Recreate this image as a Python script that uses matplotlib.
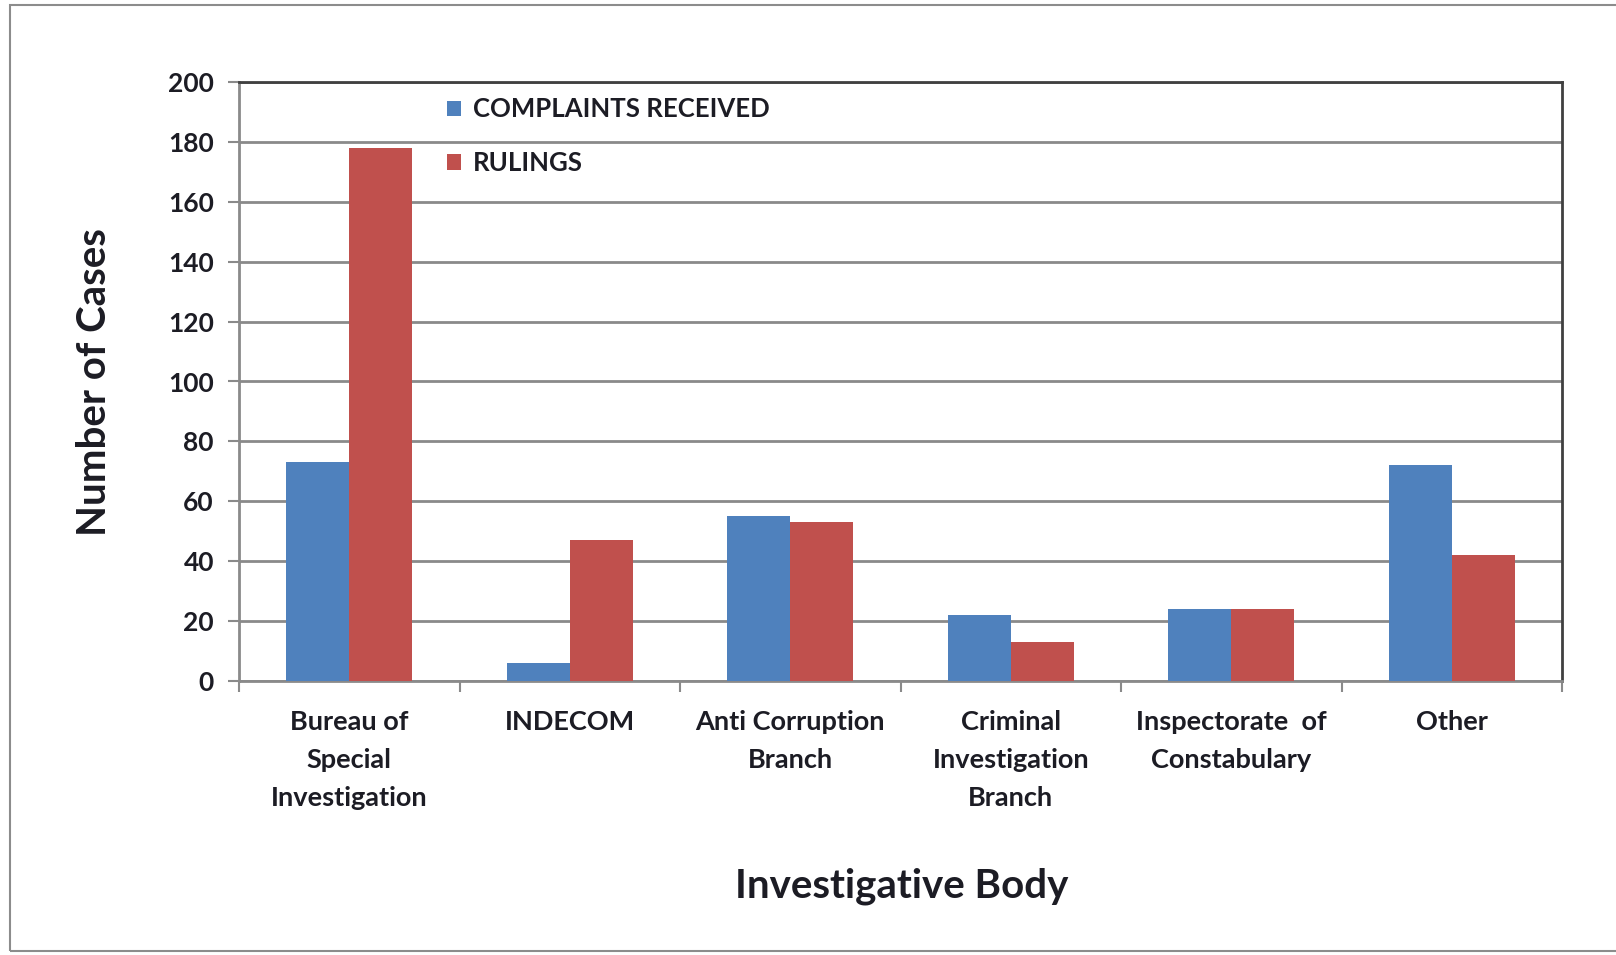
import matplotlib
matplotlib.use("Agg")
import matplotlib.pyplot as plt
import numpy as np
from matplotlib.patches import Rectangle

categories = ["Bureau of\nSpecial\nInvestigation", "INDECOM", "Anti Corruption\nBranch",
              "Criminal\nInvestigation\nBranch", "Inspectorate  of\nConstabulary", "Other"]
complaints = [73, 6, 55, 22, 24, 72]
rulings = [178, 47, 53, 13, 24, 42]
series_names = ["COMPLAINTS RECEIVED", "RULINGS"]
yticks = [0, 20, 40, 60, 80, 100, 120, 140, 160, 180, 200]

blue = "#4F81BD"
red = "#C0504D"
txt = "#1c1c24"

plt.rcParams['font.family'] = ['Lato', 'DejaVu Sans']

W, H = 1616, 955
fig = plt.figure(figsize=(W / 100, H / 100), dpi=100)
fig.patch.set_facecolor("white")

# outer frame
fig.patches.append(Rectangle((10 / W, 1 - 951 / H), 1.0, (951 - 5) / H, transform=fig.transFigure,
                             fill=False, edgecolor="#8c8c8c", linewidth=1.5))

ax = fig.add_axes([239 / W, 1 - 681 / H, (1562 - 239) / W, (681 - 82) / H])

x = np.arange(len(categories))
bw = 1 / 3.5
ax.bar(x - bw / 2, complaints, width=bw, color=blue, label=series_names[0], zorder=3)
ax.bar(x + bw / 2, rulings, width=bw, color=red, label=series_names[1], zorder=3)

ax.set_xlim(-0.5, len(categories) - 0.5)
ax.set_ylim(0, 200)
ax.set_yticks(yticks)
ax.set_yticklabels([str(v) for v in yticks], fontsize=19, fontweight="bold", color=txt)
ax.yaxis.grid(True, color="#8a8a8a", linewidth=2.0, zorder=0)
ax.set_axisbelow(True)

# category boundary ticks
ax.set_xticks(np.arange(len(categories) + 1) - 0.5)
ax.set_xticklabels([])
ax.set_xticks(x, minor=True)
ax.set_xticklabels(categories, minor=True, fontsize=19.5, fontweight="bold", color=txt,
                   linespacing=1.7, va="top")
ax.tick_params(axis="x", which="minor", length=0, pad=21)
ax.tick_params(axis="x", which="major", length=8, width=1.5, color="#8a8a8a", direction="out")
ax.tick_params(axis="y", length=8, width=1.5, color="#8a8a8a", direction="out", pad=10)

for s in ["left", "bottom"]:
    ax.spines[s].set_color("#8a8a8a")
    ax.spines[s].set_linewidth(2.0)
for s in ["top", "right"]:
    ax.spines[s].set_color("#404040")
    ax.spines[s].set_linewidth(2.0)

fig.text(95 / W, 1 - 382 / H, "Number of Cases", fontsize=29, fontweight="bold", color=txt,
         rotation=90, ha="center", va="center")
fig.text(902 / W, 1 - 886 / H, "Investigative Body", fontsize=29, fontweight="bold",
         color=txt, ha="center", va="center")

leg = ax.legend(loc="upper left", bbox_to_anchor=(0.14, 1.013), frameon=False,
                prop={"size": 18.5, "weight": "bold"}, handlelength=0.55, handleheight=0.55,
                handletextpad=0.45, labelspacing=1.15)
for t in leg.get_texts():
    t.set_color(txt)

fig.savefig("out.png", dpi=100, facecolor="white")
